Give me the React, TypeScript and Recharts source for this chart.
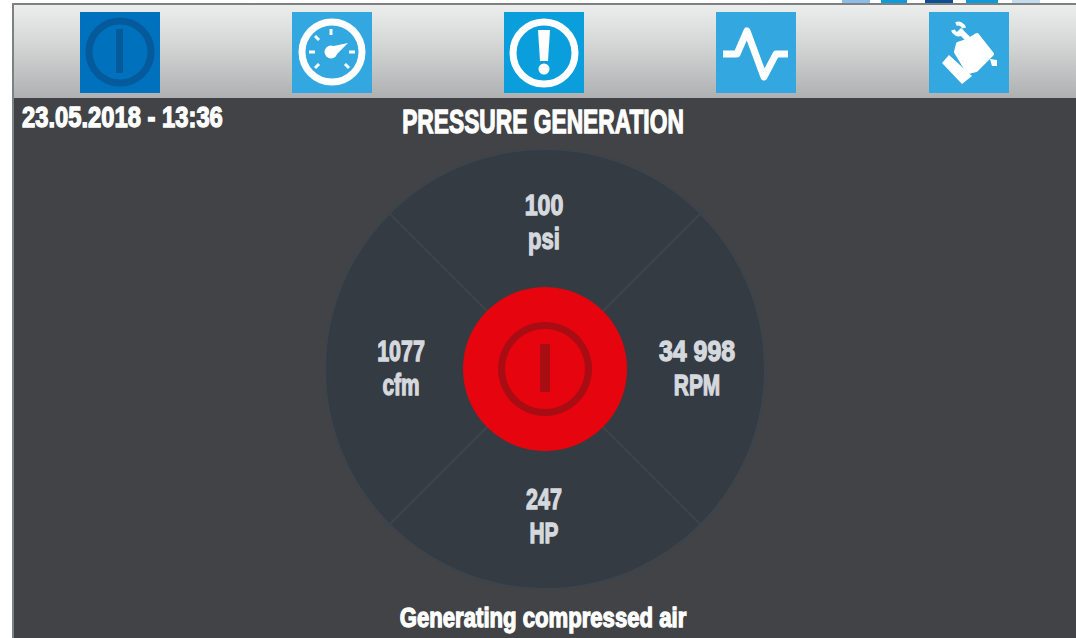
import { PieChart, Pie, Cell } from 'recharts'

const WIDTH = 1076
const HEIGHT = 638
const CX = 545
const CY = 369

const READINGS = ['100', '1077', '247', '34 998']
const UNITS = ['psi', 'cfm', 'HP', 'RPM']
const SECTOR_WEIGHTS = [1, 1, 1, 1]
const TOP_STRIP = [
  { x: 842, w: 28, fill: '#8dbde6' },
  { x: 881, w: 26, fill: '#0b9bd8' },
  { x: 925, w: 28, fill: '#0e4f94' },
  { x: 966, w: 32, fill: '#0b9bd8' },
  { x: 1012, w: 28, fill: '#c5dcec' },
]
const BUTTON_X = [80, 292, 504, 716, 929]
const BUTTON_FILL = ['#0071bc', '#33a8e0', '#0a9fdc', '#33a8e0', '#33a8e0']

const sectors = READINGS.map((reading, i) => ({
  reading,
  unit: UNITS[i],
  value: SECTOR_WEIGHTS[i],
}))

const FONT = '"Liberation Sans", sans-serif'
const LABEL = '#d5d9de'

// no Impact here, so squeeze a bold sans sideways to get the same look
function Squeezed({ x, y, size, sx, anchor = 'middle', fill, children }: any) {
  return (
    <text
      transform={`translate(${x} ${y}) scale(${sx} 1)`}
      textAnchor={anchor}
      style={{ fontFamily: FONT, fontWeight: 700, fontSize: size, fill, stroke: fill, strokeWidth: 1.3 }}
    >
      {children}
    </text>
  )
}

// reading + unit stacked in the middle of each quadrant
const LABEL_DX = [-1, 4, -1, 4]
const LABEL_DY = [0, -2, -2, -2]
const READING_SX = [0.8, 0.74, 0.74, 0.86]
const UNIT_SX = [0.76, 0.72, 0.72, 0.72]

function SectorLabel(props: any) {
  const { cx, cy, midAngle, index } = props
  const r = 148
  const x = cx + r * Math.cos((-midAngle * Math.PI) / 180) + LABEL_DX[index]
  const y = cy + r * Math.sin((-midAngle * Math.PI) / 180) + LABEL_DY[index]
  const s = sectors[index]
  return (
    <g>
      <Squeezed x={x} y={y - 6} size={29} sx={READING_SX[index]} fill={LABEL}>{s.reading}</Squeezed>
      <Squeezed x={x} y={y + 28} size={29} sx={UNIT_SX[index]} fill={LABEL}>{s.unit}</Squeezed>
    </g>
  )
}

function Icons() {
  return (
    <>
      {BUTTON_X.map((x, i) => (
        <rect key={x} x={x} y={12} width={80} height={81} fill={BUTTON_FILL[i]} />
      ))}
      {/* power */}
      <circle cx={120} cy={52} r={31} fill="none" stroke="#045a9b" strokeWidth={7} />
      <rect x={116} y={29} width={7} height={44} fill="#045a9b" />
      {/* gauge */}
      <circle cx={332} cy={52} r={30} fill="none" stroke="#fff" strokeWidth={7} />
      <g stroke="#fff" strokeWidth={3}>
        <line x1={331} y1={29} x2={331} y2={35} />
        <line x1={309} y1={52} x2={315} y2={52} />
        <line x1={349} y1={52} x2={355} y2={52} />
        <line x1={315} y1={36} x2={319} y2={40} />
        <line x1={315} y1={68} x2={319} y2={64} />
        <line x1={349} y1={68} x2={345} y2={64} />
      </g>
      <circle cx={331} cy={52} r={6.5} fill="#fff" />
      <polygon points="329,47 335,56 348,43" fill="#fff" />
      {/* alert */}
      <circle cx={544} cy={53} r={31} fill="none" stroke="#fff" strokeWidth={7} />
      <polygon points="538,30 550,30 548,61 540,61" fill="#fff" />
      <circle cx={544} cy={69} r={5.5} fill="#fff" />
      {/* pulse */}
      <polyline
        points="723,54 737,54 747,31 764,77 776,54 788,54"
        fill="none"
        stroke="#fff"
        strokeWidth={7}
        strokeLinejoin="round"
      />
      {/* hand with wrench */}
      <polygon points="942,63 949,55 972,76 962,84" fill="#fff" />
      <polygon
        points="956,52 958,44 967,41 977,35 992,54 976,70 968,72"
        fill="#fff"
        stroke="#fff"
        strokeWidth={4}
        strokeLinejoin="round"
      />
      <line x1={968} y1={39} x2={959} y2={30} stroke="#fff" strokeWidth={6} />
      <path d="M953 30 A6 6 0 0 0 961 34 M956 24 A6 6 0 0 1 964 28" fill="none" stroke="#fff" strokeWidth={4} />
      <polygon points="990,59 997,60 997,66 992,66" fill="#fff" />
    </>
  )
}

export default function App() {
  return (
    <div style={{ position: 'fixed', left: 0, top: 0, width: WIDTH, height: HEIGHT, background: '#fff', overflow: 'hidden' }}>
      {TOP_STRIP.map((t) => (
        <div key={t.x} style={{ position: 'absolute', left: t.x, top: 0, width: t.w, height: 4, background: t.fill }} />
      ))}
      <div style={{ position: 'absolute', left: 13, top: 3, width: WIDTH - 13, height: HEIGHT - 3, background: '#414346' }} />
      <div
        style={{
          position: 'absolute',
          left: 13,
          top: 5,
          width: WIDTH - 13,
          height: 93,
          background: 'linear-gradient(#eceded, #d6d8d8 40%, #aeb0b1)',
        }}
      />
      <div style={{ position: 'absolute', left: 13, top: 3, width: WIDTH - 13, height: 2, background: '#7f8081' }} />
      <div style={{ position: 'absolute', left: 12, top: 3, width: 2, height: HEIGHT - 3, background: '#7f8081' }} />

      <div style={{ position: 'absolute', left: 0, top: 0 }}>
        <PieChart width={WIDTH} height={HEIGHT} margin={{ top: 0, right: 0, bottom: 0, left: 0 }}>
          <Pie
            data={sectors}
            dataKey="value"
            nameKey="unit"
            cx={CX}
            cy={CY}
            innerRadius={0}
            outerRadius={220}
            startAngle={45}
            endAngle={405}
            stroke="#3d444b"
            strokeWidth={2}
            label={SectorLabel}
            labelLine={false}
            isAnimationActive={false}
          >
            {sectors.map((s) => (
              <Cell key={s.unit} fill="#343b43" />
            ))}
          </Pie>
          <Pie
            data={[{ value: 1 }]}
            dataKey="value"
            cx={CX}
            cy={CY}
            innerRadius={0}
            outerRadius={82}
            stroke="none"
            fill="#e6040e"
            isAnimationActive={false}
          />
          <Pie
            data={[{ value: 1 }]}
            dataKey="value"
            cx={CX}
            cy={CY}
            innerRadius={40}
            outerRadius={47}
            stroke="none"
            fill="#a90d14"
            isAnimationActive={false}
          />
        </PieChart>
      </div>

      <svg width={WIDTH} height={HEIGHT} style={{ position: 'absolute', left: 0, top: 0, pointerEvents: 'none' }}>
        <Icons />
        <rect x={540} y={344} width={10} height={48} fill="#a90d14" />
        <Squeezed x={22} y={127} size={29} sx={0.82} anchor="start" fill="#ffffff">23.05.2018 - 13:36</Squeezed>
        <Squeezed x={543} y={133} size={33} sx={0.69} fill="#ffffff">PRESSURE GENERATION</Squeezed>
        <Squeezed x={543} y={627} size={27} sx={0.82} fill="#ffffff">Generating compressed air</Squeezed>
      </svg>
    </div>
  )
}
